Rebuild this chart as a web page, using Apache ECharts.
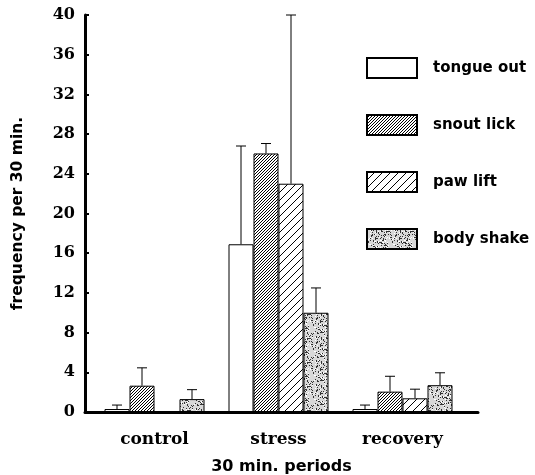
<!DOCTYPE html>
<html style="height: 100%">
<head>
<meta charset="utf-8">
<script src="https://cdn.jsdelivr.net/npm/echarts@6/dist/echarts.min.js"></script>
</head>
<body style="height: 100%; margin: 0; background: #fff">
<div id="main" style="width: 535px; height: 475px"></div>
<script type="text/javascript">
// data
var periods = ['control', 'stress', 'recovery'];
var behaviours = ['tongue out', 'snout lick', 'paw lift', 'body shake'];
var tongueOut = [0.3, 16.9, 0.3];
var tongueOutErr = [0.7, 26.8, 0.7];
var snoutLick = [2.65, 26.05, 2.05];
var snoutLickErr = [4.45, 27.05, 3.6];
var pawLift = [0, 23.0, 1.38];
var pawLiftErr = [null, 40, 2.3];
var bodyShake = [1.3, 10.0, 2.7];
var bodyShakeErr = [2.25, 12.5, 3.95];

// fill patterns
function hatch(size, step, width) {
    var c = document.createElement('canvas');
    c.width = size; c.height = size;
    var g = c.getContext('2d');
    g.fillStyle = '#fff';
    g.fillRect(0, 0, size, size);
    g.strokeStyle = '#000';
    g.lineWidth = width;
    for (var i = -size; i <= size; i += step) {
        g.beginPath();
        g.moveTo(i, size);
        g.lineTo(i + size, 0);
        g.stroke();
    }
    return c;
}
function stipple() {
    var c = document.createElement('canvas');
    c.width = 24; c.height = 24;
    var g = c.getContext('2d');
    g.fillStyle = '#d8d8d8';
    g.fillRect(0, 0, 24, 24);
    var s = 7;
    for (var k = 0; k < 170; k++) {
        s = (s * 73 + 41) % 997;
        var x = s % 24;
        s = (s * 73 + 41) % 997;
        var y = s % 24;
        g.fillStyle = (k % 3 == 0) ? '#fff' : '#333';
        g.fillRect(x, y, 1, 1);
    }
    return c;
}
var fills = [
    '#fff',
    { image: hatch(12, 3, 1), repeat: 'repeat' },
    { image: hatch(24, 8, 1), repeat: 'repeat' },
    { image: stipple(), repeat: 'repeat' }
];
var values = [tongueOut, snoutLick, pawLift, bodyShake];
var errors = [tongueOutErr, snoutLickErr, pawLiftErr, bodyShakeErr];

var barW = 25;
var series = [];
var errData = [];
for (var s = 0; s < 4; s++) {
    series.push({
        name: behaviours[s],
        type: 'bar',
        barWidth: barW,
        barGap: '0%',
        itemStyle: { color: fills[s], borderColor: '#000', borderWidth: 1 },
        data: values[s]
    });
    for (var i = 0; i < periods.length; i++) {
        if (errors[s][i] != null) errData.push([i, values[s][i], errors[s][i], s]);
    }
}
series.push({
    type: 'custom',
    silent: true,
    z: 1,
    renderItem: function (params, api) {
        var base = api.coord([api.value(0), api.value(1)]);
        var top = api.coord([api.value(0), api.value(2)]);
        var x = base[0] + (api.value(3) - 1.5) * barW;
        var st = { stroke: '#000', lineWidth: 1 };
        return {
            type: 'group',
            children: [
                { type: 'line', shape: { x1: x, y1: base[1], x2: x, y2: top[1] }, style: st },
                { type: 'line', shape: { x1: x - 5, y1: top[1], x2: x + 5, y2: top[1] }, style: st }
            ]
        };
    },
    data: errData
});

var myChart = echarts.init(document.getElementById('main'));
myChart.setOption({
    backgroundColor: '#fff',
    animation: false,
    legend: {
        data: behaviours,
        icon: 'rect',
        orient: 'vertical',
        left: 366,
        top: 57,
        padding: 0,
        itemWidth: 50,
        itemHeight: 20,
        itemGap: 35,
        textStyle: {
            fontFamily: 'DejaVu Sans', fontWeight: 'bold', fontSize: 15, color: '#000',
            padding: [0, 0, 0, 11]
        }
    },
    grid: [
        { left: 92.5, right: 70.5, top: 15, bottom: 63, outerBoundsMode: 'none' },
        { left: 85, right: 57, top: 15, bottom: 63, outerBoundsMode: 'none' }
    ],
    xAxis: [{
        type: 'category',
        gridIndex: 0,
        data: periods,
        axisLine: { show: false },
        axisTick: { show: false },
        axisLabel: {
            margin: 19, color: '#000',
            fontFamily: 'DejaVu Serif', fontWeight: 'bold', fontSize: 17
        }
    }, {
        type: 'value',
        gridIndex: 1,
        min: 0, max: 1,
        position: 'bottom',
        splitLine: { show: false },
        axisTick: { show: false },
        axisLabel: { show: false },
        axisLine: { onZero: false, lineStyle: { color: '#000', width: 3 } },
        name: '30 min. periods',
        nameLocation: 'middle',
        nameGap: 47,
        nameTextStyle: { fontFamily: 'DejaVu Sans', fontWeight: 'bold', fontSize: 16, color: '#000' }
    }],
    yAxis: [{
        type: 'value',
        gridIndex: 0,
        min: 0, max: 40, interval: 4,
        offset: 7.5,
        splitLine: { show: false },
        axisLine: { show: true, lineStyle: { color: '#000', width: 3 } },
        axisTick: { show: true, inside: true, length: 4, lineStyle: { color: '#000', width: 2 } },
        axisLabel: {
            margin: 10, color: '#000',
            fontFamily: 'DejaVu Serif', fontWeight: 'bold', fontSize: 16
        },
        name: 'frequency per 30 min.',
        nameLocation: 'middle',
        nameGap: 59,
        nameTextStyle: { fontFamily: 'DejaVu Sans', fontWeight: 'bold', fontSize: 15.5, color: '#000' }
    }, {
        type: 'value',
        gridIndex: 1,
        min: 0, max: 1,
        show: false
    }],
    series: series
});
</script>
</body>
</html>
